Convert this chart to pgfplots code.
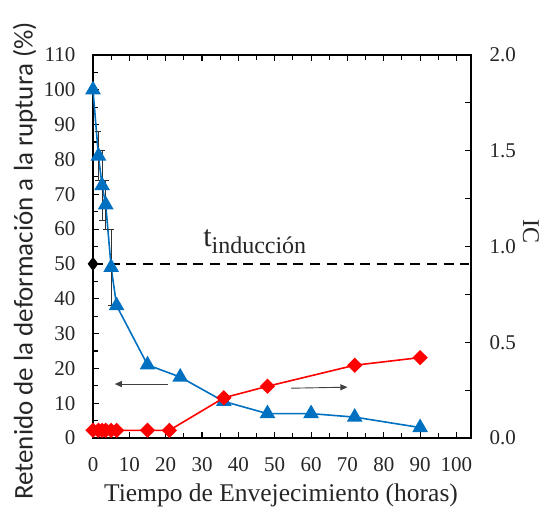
\documentclass[border=0pt]{standalone}
\usepackage{fontspec}
\setmainfont{Liberation Serif}
\newfontfamily\labelfont{Carlito}
\newfontfamily\tickfont{Liberation Serif}
\usepackage{pgfplots}
\pgfplotsset{compat=1.18}
\usetikzlibrary{arrows.meta}
\definecolor{myblue}{RGB}{0,112,192}
\definecolor{myred}{RGB}{255,0,0}
\begin{document}
\begin{tikzpicture}
\begin{axis}[name=ax, at={(0,0)}, anchor=south west,
  scale only axis, width=378pt, height=383pt,
  xmin=0, xmax=104, ymin=0, ymax=110,
  xtick={0,10,...,100}, ytick={0,10,...,110},
  xticklabels={0,10,20,30,40,50,60,70,80,90,100},
  yticklabels={0,10,20,30,40,50,60,70,80,90,100,110},
  minor x tick num=1, minor y tick num=1,
  xtick pos=both, ytick pos=left, tick align=inside,
  major tick length=6pt, minor tick length=5pt,
  axis line style={line width=1.6pt},
  every tick/.style={black, line width=1.1pt},
  tick label style={font=\tickfont\fontsize{21}{24}\selectfont, text=black!85},
  xticklabel style={anchor=center, yshift=-27pt},
  yticklabel style={anchor=east, xshift=-14pt},
  clip=false,
]
\addplot[black, line width=2.5pt, dash pattern=on 10pt off 6.7pt,
  mark=diamond*, mark indices={1}, mark options={solid, mark size=5pt}]
  coordinates {(0,50) (103.5,50)};
\addplot[myblue, line width=1.6pt, mark=triangle*, mark size=7.5pt,
  error bars/.cd, y dir=both, y explicit,
  error bar style={black!80, line width=0.7pt},
  error mark options={rotate=90, mark size=3pt, black!80, line width=0.7pt}]
  coordinates {
  (0,100) +- (0,0)
  (1.5,81) +- (0,7)
  (2.5,72.5) +- (0,10)
  (3.5,67) +- (0,7)
  (5,49) +- (0,11)
  (6.5,38) +- (0,0)
  (15,21) +- (0,0)
  (24,17.5) +- (0,0)
  (36,10.5) +- (0,0)
  (48,7) +- (0,0)
  (60,7) +- (0,0)
  (72,6) +- (0,0)
  (90,3) +- (0,0)
  };
\draw[-{Triangle[length=7pt,width=6pt]}, line width=0.9pt, black!75] (axis cs:20.5,15.5) -- (axis cs:6,15.5);
\draw[-{Triangle[length=7pt,width=6pt]}, line width=0.9pt, black!75] (axis cs:54.5,14.3) -- (axis cs:70,14.6);
\node[text=black!85, inner sep=0pt] at (axis cs:44.5,56.5)
  {\fontsize{30}{32}\selectfont t\raisebox{-7pt}{\fontsize{24}{26}\selectfont inducción}};
\end{axis}
\begin{axis}[at={(ax.south west)}, anchor=south west,
  scale only axis, width=378pt, height=383pt,
  xmin=0, xmax=104, ymin=0, ymax=2,
  axis x line=none, axis y line*=right,
  ytick={0,0.5,1,1.5,2}, yticklabels={0.0,0.5,1.0,1.5,2.0},
  minor y tick num=1, tick align=inside,
  major tick length=6pt, minor tick length=6pt,
  axis line style={line width=1.6pt},
  every tick/.style={black, line width=1.1pt},
  yticklabel style={font=\tickfont\fontsize{21}{24}\selectfont, text=black!85,
    anchor=west, xshift=15pt},
]
\addplot[myred, line width=1.6pt, mark=square*, mark size=4.6pt, mark options={rotate=45}]
  coordinates {
  (0,0.04) (1.5,0.04) (2.5,0.04) (3.5,0.04) (5,0.04) (6.5,0.04)
  (15,0.04) (21,0.04) (36,0.21) (48,0.27) (72,0.38) (90,0.42)
  };
\end{axis}
\node[text=black!85, font=\tickfont\fontsize{25.5}{28}\selectfont]
  at ([xshift=188pt, yshift=-57pt]ax.south west) {Tiempo de Envejecimiento (horas)};
\node[rotate=-90, text=black!85, font=\tickfont\fontsize{24}{26}\selectfont]
  at ([xshift=60pt, yshift=206pt]ax.south east) {IC};
\node[rotate=90, text=black!85, font=\labelfont\fontsize{27}{30}\selectfont]
  at ([xshift=-68pt, yshift=177pt]ax.south west) {Retenido de la deformación a la ruptura (\%)};
\pgfresetboundingbox
\useasboundingbox ([xshift=-93pt,yshift=-70pt]ax.south west) rectangle ([xshift=72pt,yshift=55pt]ax.north east);
\end{tikzpicture}
\end{document}
